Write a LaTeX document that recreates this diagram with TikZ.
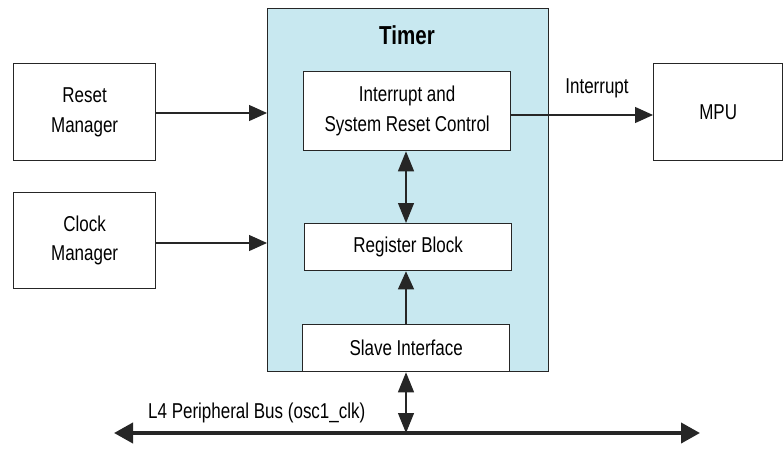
\documentclass[tikz,border=0pt]{standalone}
\usepackage{fontspec}
\setmainfont{Liberation Sans}[FakeStretch=0.79]
\usetikzlibrary{arrows.meta,calc}
\definecolor{timerblue}{RGB}{200,232,240}
\begin{document}
\begin{tikzpicture}[x=1pt,y=-1pt,
  box/.style={draw=black!85,line width=1.3pt,fill=white,inner sep=0pt,align=center,font=\fontsize{21.5}{29.5}\selectfont},
  conn/.style={draw=black!85,line width=1.2pt},
  tip/.style={-{Triangle[length=18pt,width=16pt]}},
  dtip/.style={{Triangle[length=20pt,width=16pt]}-{Triangle[length=20pt,width=16pt]}},
  lbl/.style={font=\fontsize{21.5}{26}\selectfont,inner sep=0pt}]
\useasboundingbox (0,0) rectangle (784,471);
% Timer container
\node[draw=black!85,line width=1.3pt,fill=timerblue,minimum width=281pt,minimum height=363pt,inner sep=0pt,anchor=north west] (timer) at (267,8) {};
\node[font=\bfseries\fontsize{26}{30}\selectfont,inner sep=0pt] (title) at (407,35) {Timer};
% inner boxes
\node[box,minimum width=207pt,minimum height=79pt,anchor=north west] (int) at (303,71) {Interrupt and\\System Reset Control};
\node[box,minimum width=207pt,minimum height=47pt,anchor=north west] (reg) at (304,223) {Register Block};
\node[box,minimum width=207pt,minimum height=47pt,anchor=north west] (slave) at (302,324) {Slave Interface};
% outer boxes
\node[box,minimum width=142pt,minimum height=97pt,anchor=north west] (reset) at (13,63) {Reset\\Manager};
\node[box,minimum width=142pt,minimum height=96pt,anchor=north west] (clock) at (13,192) {Clock\\Manager};
\node[box,minimum width=129pt,minimum height=97pt,anchor=north west] (mpu) at (653,63) {MPU};
% bus
\coordinate (busL) at (114,433);
\coordinate (busR) at (700,433);
\coordinate (busT) at (406,433);
\draw[draw=black!85,line width=4pt,{Triangle[length=19pt,width=20pt]}-{Triangle[length=19pt,width=20pt]}] (busL) -- (busR);
\node[lbl,anchor=west] (buslbl) at (148,413) {L4 Peripheral Bus (osc1\_clk)};
% connectors
\draw[conn,tip] (reset.east |- 0,113) -- (timer.west |- 0,113);
\draw[conn,tip] (clock.east |- 0,243) -- (timer.west |- 0,243);
\draw[conn,tip] (int.east |- 0,115) -- (mpu.west |- 0,115);
\node[lbl] (intlbl) at (597,88) {Interrupt};
\draw[conn,dtip] (int.south -| 406,0) -- (reg.north -| 406,0);
\draw[conn,tip] (slave.north -| 406,0) -- (reg.south -| 406,0);
\draw[conn,dtip] (slave.south -| 406,0) -- (busT);
\end{tikzpicture}
\end{document}
